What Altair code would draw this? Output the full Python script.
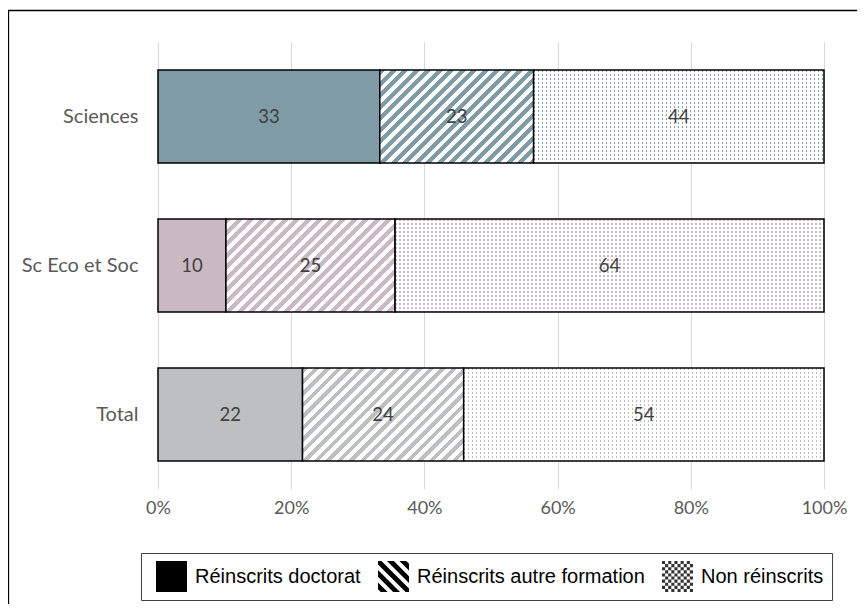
import altair as alt
import pandas as pd

# ---------------- data ----------------
categories = ["Sciences", "Sc Eco et Soc", "Total"]
statuses = ["Réinscrits doctorat", "Réinscrits autre formation", "Non réinscrits"]
doctorat = [33.3, 10.2, 21.7]
autre_formation = [23.1, 25.4, 24.2]
non_reinscrits = [43.6, 64.4, 54.1]
x_ticks = [0, 20, 40, 60, 80, 100]

# ---------------- styles ----------------
solid_colors = ["#7F9CA6", "#CAB8C3", "#BDBFC0"]
PLOT_W = 666
PLOT_H = 447
BAR = 93
CAL_FONT = "Lato"
LEG_FONT = "Liberation Sans"

series = [doctorat, autre_formation, non_reinscrits]
rows = []
for ci, cat in enumerate(categories):
    for si, st in enumerate(statuses):
        rows.append({"cat": cat, "ci": ci, "status": st, "order": si, "value": series[si][ci]})
df = pd.DataFrame(rows)

TRANSP = "rgba(255,255,255,0)"


def hatch_gradient(color, w, h, period=11.5, frac=0.5):
    L = w + h
    s = L * w / (w * w + h * h)
    stops = []
    p = 0.0
    while p < L:
        a = min(p / L, 1.0)
        b = min((p + period * frac) / L, 1.0)
        c = min((p + period) / L, 1.0)
        stops += [{"offset": a, "color": color}, {"offset": b, "color": color},
                  {"offset": b, "color": "white"}, {"offset": c, "color": "white"}]
        p += period
    return {"gradient": "linear", "x1": 0, "y1": 0, "x2": s, "y2": s * h / w, "stops": stops}


def stripe_gradient(length, on_color, off_color, vertical, period=4.0, width=1.6):
    stops = []
    p = 0.0
    while p < length:
        a = min(p / length, 1.0)
        b = min((p + width) / length, 1.0)
        c = min((p + period) / length, 1.0)
        stops += [{"offset": a, "color": on_color}, {"offset": b, "color": on_color},
                  {"offset": b, "color": off_color}, {"offset": c, "color": off_color}]
        p += period
    if vertical:
        return {"gradient": "linear", "x1": 0, "y1": 0, "x2": 1, "y2": 0, "stops": stops}
    return {"gradient": "linear", "x1": 0, "y1": 0, "x2": 0, "y2": 1, "stops": stops}


def clip(poly, a, b, c):
    out = []
    n = len(poly)
    for i in range(n):
        p, q = poly[i], poly[(i + 1) % n]
        fp = a * p[0] + b * p[1] - c
        fq = a * q[0] + b * q[1] - c
        if fp <= 0:
            out.append(p)
        if (fp < 0 < fq) or (fq < 0 < fp):
            t = fp / (fp - fq)
            out.append((p[0] + t * (q[0] - p[0]), p[1] + t * (q[1] - p[1])))
    return out


def poly_path(poly):
    return "M" + " L".join(f"{x:.3f},{y:.3f}" for x, y in poly) + " Z"


square = [(-1, -1), (1, -1), (1, 1), (-1, 1)]
hatch_parts = []
for center in [-1.6, -0.8, 0.0, 0.8, 1.6]:
    lo, hi = center - 0.22, center + 0.22
    pg = clip(square, -1, 1, hi)
    pg = clip(pg, 1, -1, -lo)
    if len(pg) >= 3:
        hatch_parts.append(poly_path(pg))
hatch_path = " ".join(hatch_parts)

dot_parts = []
n = 10
cell = 2.0 / n
for i in range(n):
    for j in range(n):
        if (i + j) % 2 == 0:
            x0 = -1 + i * cell
            y0 = -1 + j * cell
            dot_parts.append(poly_path([(x0, y0), (x0 + cell, y0), (x0 + cell, y0 + cell), (x0, y0 + cell)]))
dot_path = " ".join(dot_parts)

# ---------------- chart ----------------
base = (
    alt.Chart(df)
    .transform_joinaggregate(total="sum(value)", groupby=["cat"])
    .transform_calculate(pct="100 * datum.value / datum.total")
    .transform_stack(stack="pct", groupby=["cat"], as_=["x0", "x1"],
                     sort=[alt.SortField(field="order", order="ascending")])
    .transform_calculate(mid="(datum.x0 + datum.x1) / 2")
)

x_enc = alt.X(
    "x0:Q",
    scale=alt.Scale(domain=[0, 100], nice=False, zero=True),
    axis=alt.Axis(values=x_ticks, labelExpr="datum.value + '%'", grid=True, domain=False,
                  ticks=False, title=None, labelFont=CAL_FONT, labelFontSize=18,
                  labelColor="#595959", labelPadding=10, labelFlush=False,
                  gridColor="#D9D9D9", gridWidth=1),
)
y_enc = alt.Y(
    "cat:N",
    sort=categories,
    scale=alt.Scale(paddingInner=0, paddingOuter=0),
    axis=alt.Axis(domain=False, ticks=False, title=None, labelFont=CAL_FONT, labelFontSize=20,
                  labelColor="#595959", labelPadding=20, grid=False),
)

layers = []

# invisible points carrying the legend
legend_def = alt.Legend(title=None, orient="none", legendX=-17, legendY=511, direction="horizontal",
                        columns=3, strokeColor="#404040", fillColor="white", padding=8,
                        symbolSize=961, symbolStrokeWidth=0, symbolOpacity=1, labelFont=LEG_FONT,
                        labelFontSize=20, labelColor="black", labelLimit=0, labelOffset=8,
                        columnPadding=10, symbolOffset=7)
legend_layer = base.mark_point(filled=True, opacity=0).encode(
    x=x_enc,
    y=y_enc,
    color=alt.Color("status:N", scale=alt.Scale(domain=statuses, range=["#000000", "#000000", "#333333"]),
                    legend=legend_def),
    shape=alt.Shape("status:N", scale=alt.Scale(domain=statuses, range=["square", hatch_path, dot_path]),
                    legend=legend_def),
)
layers.append(legend_layer)

for ci, cat in enumerate(categories):
    col = solid_colors[ci]
    for si in range(3):
        pct = series[si][ci] / sum(s[ci] for s in series) * 100
        w = pct / 100 * PLOT_W
        sel = base.transform_filter(f"datum.ci == {ci} && datum.order == {si}")
        enc = dict(x=x_enc, x2="x1:Q", y=y_enc)
        if si == 0:
            layers.append(sel.mark_bar(size=BAR, fill=col, stroke="black", strokeWidth=1.5).encode(**enc))
        elif si == 1:
            layers.append(sel.mark_bar(size=BAR, fill=hatch_gradient(col, w, BAR), stroke="black",
                                       strokeWidth=1.5).encode(**enc))
        else:
            layers.append(sel.mark_bar(size=BAR, fill="white").encode(**enc))
            layers.append(sel.mark_bar(size=BAR, fill=stripe_gradient(w, col, TRANSP, True)).encode(**enc))
            layers.append(sel.mark_bar(size=BAR, fill=stripe_gradient(BAR, TRANSP, "white", False),
                                       stroke="black", strokeWidth=1.5).encode(**enc))

labels = base.mark_text(font=CAL_FONT, fontSize=18.5, color="#404040").encode(
    x=alt.X("mid:Q", scale=alt.Scale(domain=[0, 100], nice=False)),
    y=y_enc,
    text=alt.Text("pct:Q", format=".0f"),
)
layers.append(labels)

border = alt.Chart(alt.Data(values=[{}])).mark_rect(fillOpacity=0, stroke="black", strokeWidth=1.3).encode(
    x=alt.value(-149.5), x2=alt.value(1000), y=alt.value(-31.5), y2=alt.value(1000)
)
layers.append(border)

chart = (
    alt.layer(*layers)
    .properties(width=PLOT_W, height=PLOT_H, padding={"left": 150, "top": 34, "right": 33, "bottom": 115},
                autosize=alt.AutoSizeParams(type="none"))
    .configure_view(strokeWidth=0)
)

chart.save("out.html", embed_options={"renderer": "svg", "actions": False})
